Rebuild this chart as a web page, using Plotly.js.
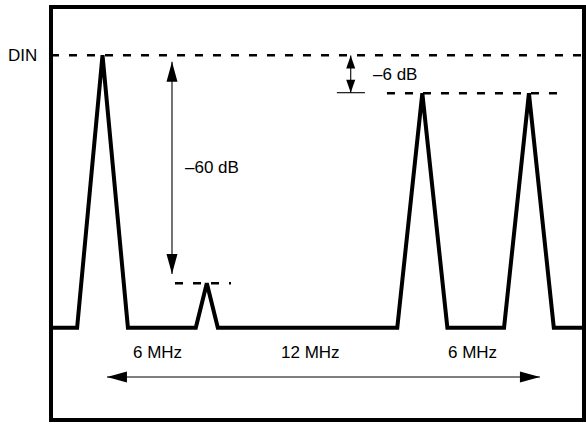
<!DOCTYPE html>
<html>
<head>
<meta charset="utf-8">
<script src="https://cdn.plot.ly/plotly-3.0.1.min.js"></script>
<style>
html,body{margin:0;padding:0;background:#fff;}
.scatterlayer .js-line{stroke-linejoin:miter !important;}
</style>
</head>
<body>
<div id="chart" style="width:586px;height:424px;"></div>
<script>
// ---- data (x in MHz offsets, y in arbitrary level units above noise floor) ----
const peakFreqs      = [0, 5.87, 18.0, 24.0];
const peakLevels     = [272.5, 44.5, 234.5, 234.5];
const peakHalfWidths = [1.43, 0.62, 1.41, 1.40];
const floorLevel     = 0;

const refNames   = ['DIN', '-6 dB ref', '-60 dB ref'];
const refLevels  = [272.5, 234.5, 44.5];
const refStarts  = [-2.9, 16.01, 4.08];
const refEnds    = [27.1, 25.75, 7.23];

const spacingLabels = ['6 MHz', '12 MHz', '6 MHz'];
const spacingLabelX = [3.12, 11.68, 20.8];
const spacingLabelY = -25;
const spanArrowY    = -49.3;
const spanArrowX    = [0.25, 24.62];

const dbLabels   = ['\u201360 dB', '\u20136 dB'];
const dbLabelX   = [4.53, 15.11];
const dbLabelY   = [160.7, 253.7];
const dbArrowX   = [3.91, 13.97];
const dbArrowTop = [266.0, 272.2];
const dbArrowBot = [53.7, 235.0];
const tickX      = [13.19, 14.77];
const tickLevel  = 235.0;

const xRange = [-2.9, 27.1];
const yRange = [-92.3, 320.7];

// ---- layout geometry ----
const W = 586, H = 424;
const M = {l: 51, r: 2, t: 7, b: 4};
const pxPerX = (W - M.l - M.r) / (xRange[1] - xRange[0]);
const pxPerY = (H - M.t - M.b) / (yRange[1] - yRange[0]);

// spectrum trace
const sx = [xRange[0]], sy = [floorLevel];
peakFreqs.forEach((f, i) => {
  sx.push(f - peakHalfWidths[i], f, f + peakHalfWidths[i]);
  sy.push(floorLevel, peakLevels[i], floorLevel);
});
sx.push(xRange[1]); sy.push(floorLevel);

const traces = [];
traces.push({x: sx, y: sy, mode: 'lines', line: {color: '#000', width: 4}, hoverinfo: 'skip'});

refLevels.forEach((lv, i) => {
  traces.push({x: [refStarts[i], refEnds[i]], y: [lv, lv], mode: 'lines', name: refNames[i],
    line: {color: '#000', width: 2.6, dash: '8px,10px'}, hoverinfo: 'skip'});
});

// shafts
dbArrowX.forEach((x, i) => {
  traces.push({x: [x, x], y: [dbArrowTop[i], dbArrowBot[i]], mode: 'lines',
    line: {color: '#000', width: 1.1}, hoverinfo: 'skip'});
});
traces.push({x: spanArrowX, y: [spanArrowY, spanArrowY], mode: 'lines',
  line: {color: '#000', width: 1.1}, hoverinfo: 'skip'});
traces.push({x: tickX, y: [tickLevel, tickLevel], mode: 'lines',
  line: {color: '#000', width: 1.1}, hoverinfo: 'skip'});

// arrowheads as filled shapes computed from arrow ends
function headV(x, tipY, dir, len, half) { // dir: +1 points up, -1 points down
  const by = tipY - dir * len / pxPerY;
  const hx = half / pxPerX;
  return {type: 'path', xref: 'x', yref: 'y', fillcolor: '#000', line: {width: 0},
    path: `M${x},${tipY} L${x - hx},${by} L${x + hx},${by} Z`};
}
function headH(tipX, y, dir, len, half) { // dir: +1 points right, -1 left
  const bx = tipX - dir * len / pxPerX;
  const hy = half / pxPerY;
  return {type: 'path', xref: 'x', yref: 'y', fillcolor: '#000', line: {width: 0},
    path: `M${tipX},${y} L${bx},${y - hy} L${bx},${y + hy} Z`};
}
const shapes = [
  headV(dbArrowX[0], dbArrowTop[0], 1, 20, 5.5),
  headV(dbArrowX[0], dbArrowBot[0], -1, 20, 5.5),
  headV(dbArrowX[1], dbArrowTop[1], 1, 13, 4.5),
  headV(dbArrowX[1], dbArrowBot[1], -1, 13, 4.5),
  headH(spanArrowX[0], spanArrowY, -1, 20, 5.5),
  headH(spanArrowX[1], spanArrowY, 1, 20, 5.5),
  {type: 'rect', xref: 'paper', yref: 'paper', x0: 0, x1: 1, y0: 0, y1: 1,
   line: {color: '#000', width: 4}}
];

const font = {family: 'Liberation Sans, Arial, sans-serif', size: 17, color: '#000'};
const annotations = [];
annotations.push({xref: 'paper', x: 0, xshift: -12, y: refLevels[0], text: 'DIN', showarrow: false,
  xanchor: 'right', yanchor: 'middle', font: font});
dbLabels.forEach((t, i) => annotations.push({x: dbLabelX[i], y: dbLabelY[i], text: t, showarrow: false,
  xanchor: 'left', yanchor: 'middle', font: font}));
spacingLabels.forEach((t, i) => annotations.push({x: spacingLabelX[i], y: spacingLabelY, text: t, showarrow: false,
  xanchor: 'center', yanchor: 'middle', font: font}));

const layout = {
  width: W, height: H,
  margin: M,
  paper_bgcolor: '#fff', plot_bgcolor: '#fff',
  showlegend: false,
  xaxis: {range: xRange, visible: false, fixedrange: true},
  yaxis: {range: yRange, visible: false, fixedrange: true},
  shapes: shapes,
  annotations: annotations
};

Plotly.newPlot('chart', traces, layout, {staticPlot: true, displayModeBar: false});
</script>
</body>
</html>
